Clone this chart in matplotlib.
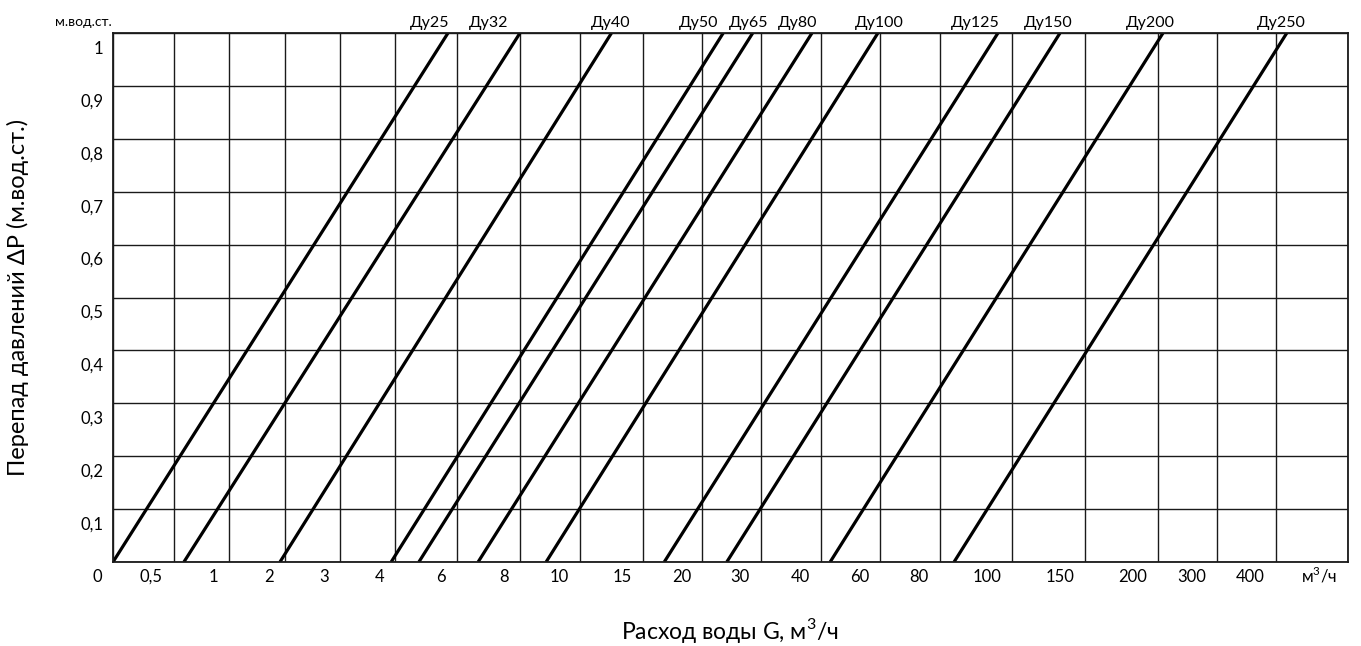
import matplotlib

matplotlib.use("Agg")

import matplotlib.pyplot as plt
import numpy as np
from matplotlib.transforms import ScaledTranslation

plt.rcParams["font.family"] = ["Lato", "Noto Sans", "DejaVu Sans"]
plt.rcParams["mathtext.fontset"] = "custom"
plt.rcParams["mathtext.rm"] = "Lato"

# labelled flow values on the x axis (m3/h); the last one is the end of the axis
flow_ticks = [0, 0.5, 1, 2, 3, 4, 6, 8, 10, 15, 20, 30, 40, 60, 80, 100, 150, 200, 300, 400, 500]
flow_labels = ["0", "0,5", "1", "2", "3", "4", "6", "8", "10", "15", "20", "30", "40",
               "60", "80", "100", "150", "200", "300", "400", "м$^\\mathrm{3}$/ч"]

dp_ticks = [0, 0.1, 0.2, 0.3, 0.4, 0.5, 0.6, 0.7, 0.8, 0.9, 1.0]
dp_labels = ["", "0,1", "0,2", "0,3", "0,4", "0,5", "0,6", "0,7", "0,8", "0,9", "1"]

# one straight line per valve size: flow at dP = 0 and at dP = 1 m
sizes = ["Ду25", "Ду32", "Ду40", "Ду50", "Ду65", "Ду80", "Ду100", "Ду125", "Ду150", "Ду200", "Ду250"]
flow_at_0 = [0, 0.59, 1.91, 3.93, 4.77, 6.67, 8.87, 16.8, 24.2, 43.1, 83.9]
flow_at_1 = [5.71, 8.0, 12.5, 23.6, 28.6, 38.5, 59.3, 96.1, 132.9, 208.5, 415]

# the nomogram scale is not uniform: distance of each labelled grid line from the origin
grid_px = [0, 61, 116, 172, 227, 282, 344, 407, 467, 530, 589, 648, 708,
           767, 827, 899, 972, 1045, 1104, 1163, 1235]
# horizontal shift of each size label from the top end of its line (pixels)
label_dx = [-18, -31, -1, -25, -4, -14, 1, -23, -12, -13, -5]


def forward(x):
    return np.interp(x, flow_ticks, grid_px)


def inverse(x):
    return np.interp(x, grid_px, flow_ticks)


W, H = 1361, 646
dpi = 100
fig = plt.figure(figsize=(W / dpi, H / dpi), dpi=dpi)
ax = fig.add_axes([113 / W, (H - 562) / H, (1348 - 113) / W, (562 - 33) / H])

ax.set_xscale("function", functions=(forward, inverse))
ax.set_xlim(0, 500)
ax.set_ylim(0, 1)

for x0, x1 in zip(flow_at_0, flow_at_1):
    ax.plot([x0, x1], [0, 1], color="black", lw=2.3, solid_capstyle="butt")

for name, x1, dx in zip(sizes, flow_at_1, label_dx):
    ax.annotate(name, xy=(x1, 1), xytext=(dx, 6), textcoords="offset pixels",
                ha="center", va="baseline", fontsize=11.5, color="black")

ax.set_xticks(flow_ticks)
ax.set_xticklabels(flow_labels)
ax.set_yticks(dp_ticks)
ax.set_yticklabels(dp_labels)
ax.minorticks_off()
ax.tick_params(length=0, labelsize=12)
ax.tick_params(axis="x", pad=5)
ax.tick_params(axis="y", pad=7)
ax.grid(True, color="#1a1a1a", lw=1.0)
for spine in ax.spines.values():
    spine.set_color("#1a1a1a")
    spine.set_linewidth(1.3)

shift_x = ScaledTranslation(-11 / dpi, 0, fig.dpi_scale_trans)
xlabels = ax.get_xticklabels()
for label in xlabels:
    label.set_horizontalalignment("right")
    label.set_transform(label.get_transform() + shift_x)
# the unit label carries a superscript, lift it back onto the common baseline
xlabels[-1].set_transform(xlabels[-1].get_transform()
                          + ScaledTranslation(0, 4 / dpi, fig.dpi_scale_trans))
shift_y = ScaledTranslation(0, -14 / dpi, fig.dpi_scale_trans)
for label in ax.get_yticklabels():
    label.set_transform(label.get_transform() + shift_y)

fig.text(112 / W, 1 - 22 / H, "м.вод.ст.", ha="right", va="center", fontsize=10)
fig.text(18 / W, 1 - 297 / H, "Перепад давлений ΔP (м.вод.ст.)", rotation=90,
         ha="center", va="center", fontsize=17)
fig.text(730 / W, 1 - 639 / H, "Расход воды G, м$^\\mathrm{3}$/ч", ha="center", va="baseline",
         fontsize=16.5)

fig.savefig("out.png", dpi=dpi)
plt.close(fig)
